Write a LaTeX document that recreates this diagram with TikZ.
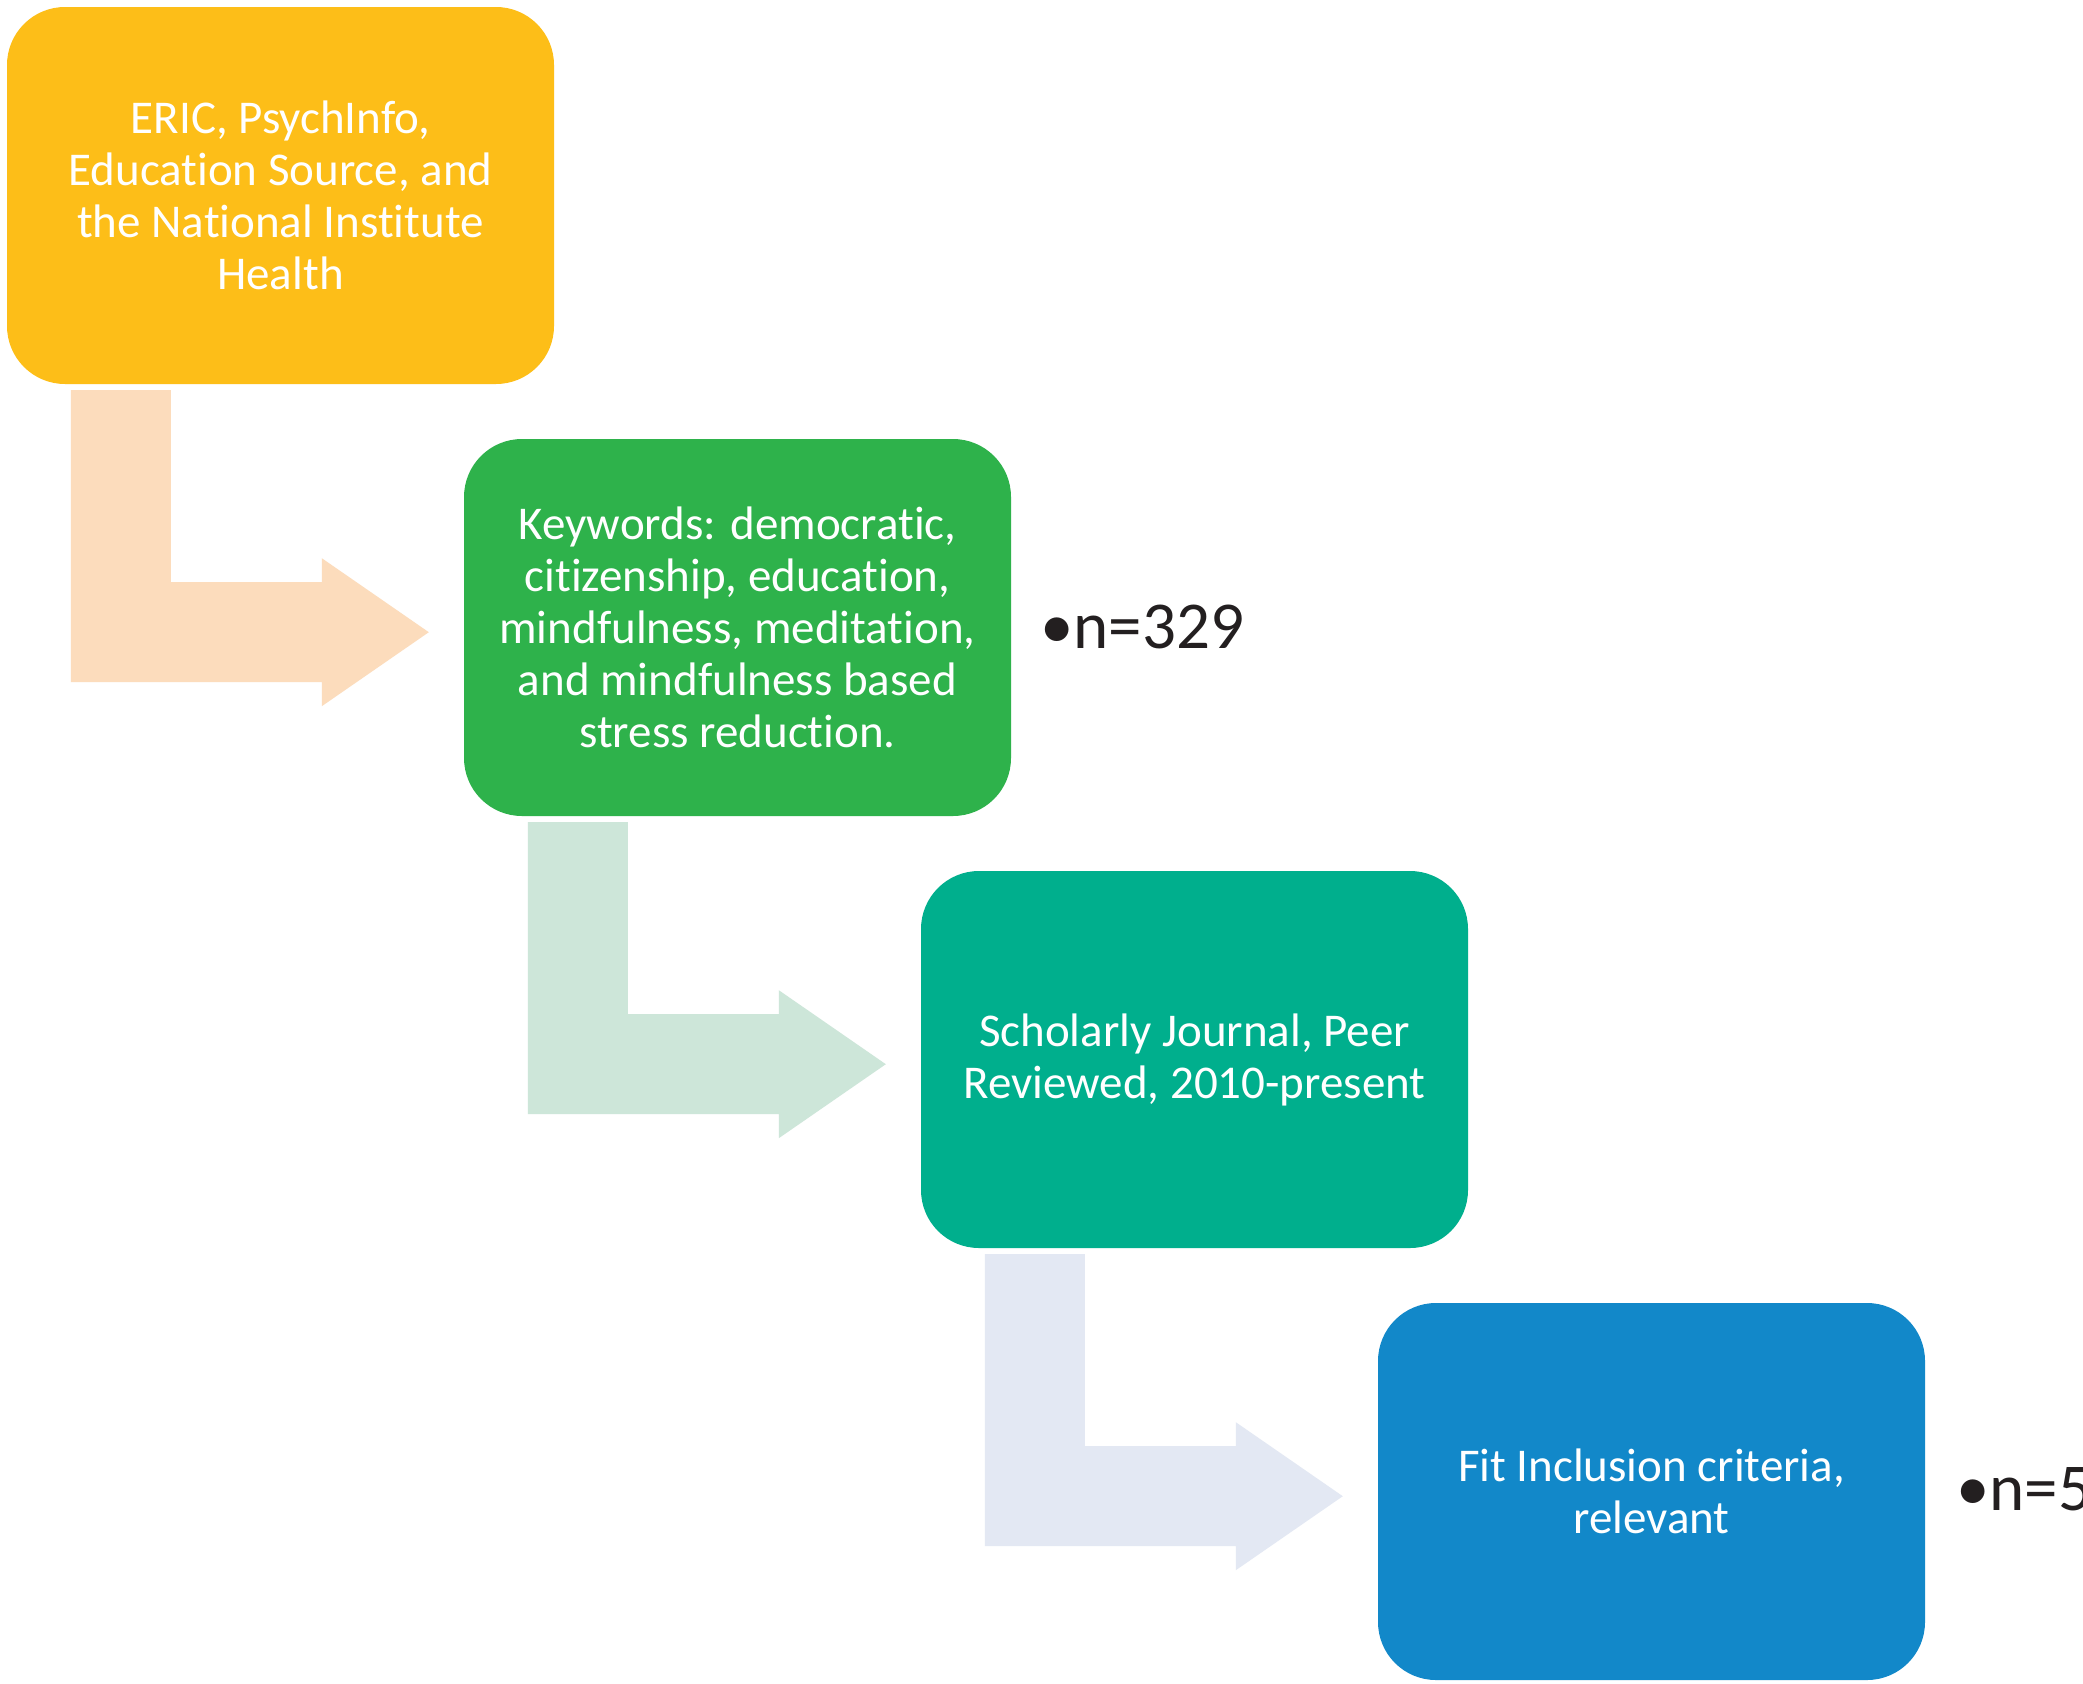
\documentclass[tikz,border=0pt]{standalone}
\usepackage{fontspec}
\setmainfont{Carlito}[Ligatures=NoCommon]
\definecolor{boxA}{HTML}{FDBE18}
\definecolor{boxB}{HTML}{2EB24B}
\definecolor{boxC}{HTML}{00AF8D}
\definecolor{boxD}{HTML}{1288C9}
\definecolor{arrA}{HTML}{FCDCBC}
\definecolor{arrB}{HTML}{CDE6D9}
\definecolor{arrC}{HTML}{E3E8F3}
\definecolor{txtdark}{HTML}{231F20}
\tikzset{
  stepbox/.style={rectangle, rounded corners=58pt, minimum width=547pt, minimum height=377pt,
    inner sep=0pt, text=white, align=center, font=\fontsize{47}{52}\selectfont},
  countlabel/.style={anchor=base west, inner sep=0pt, text=txtdark, font=\fontsize{67}{80}\selectfont},
  larrow/.pic={
    \fill[pic actions] (64,6) -- (164,6) -- (164,198) -- (315,198) -- (315,174) -- (422,248)
      -- (315,322) -- (315,298) -- (64,298) -- cycle;
  }
}
\begin{document}
\begin{tikzpicture}[x=1pt,y=-1pt]
\clip (0,0) rectangle (2083,1684);
\useasboundingbox (0,0) rectangle (2083,1684);
\fill[white] (0,0) rectangle (2083,1684);

\node[stepbox, fill=boxA] (b1) at (280.5,195.5) {ERIC, PsychInfo,\\Education Source, and\\the National Institute\\Health};
\node[stepbox, fill=boxB] (b2) at (737.5,627.5) {Keywords: democratic,\\citizenship, education,\\mindfulness, meditation,\\and mindfulness based\\stress reduction.};
\node[stepbox, fill=boxC] (b3) at (1194.5,1059.5) {Scholarly Journal, Peer\\Reviewed, 2010-present};
\node[stepbox, fill=boxD] (b4) at (1651.5,1491.5) {Fit Inclusion criteria,\\relevant};

\pic[fill=arrA] at (b1.south west) {larrow};
\pic[fill=arrB] at (b2.south west) {larrow};
\pic[fill=arrC] at (b3.south west) {larrow};

\node[countlabel] (n1) at (1040,648) {•n=329};
\node[countlabel] (n2) at (1956,1510) {•n=5};
\end{tikzpicture}
\end{document}
